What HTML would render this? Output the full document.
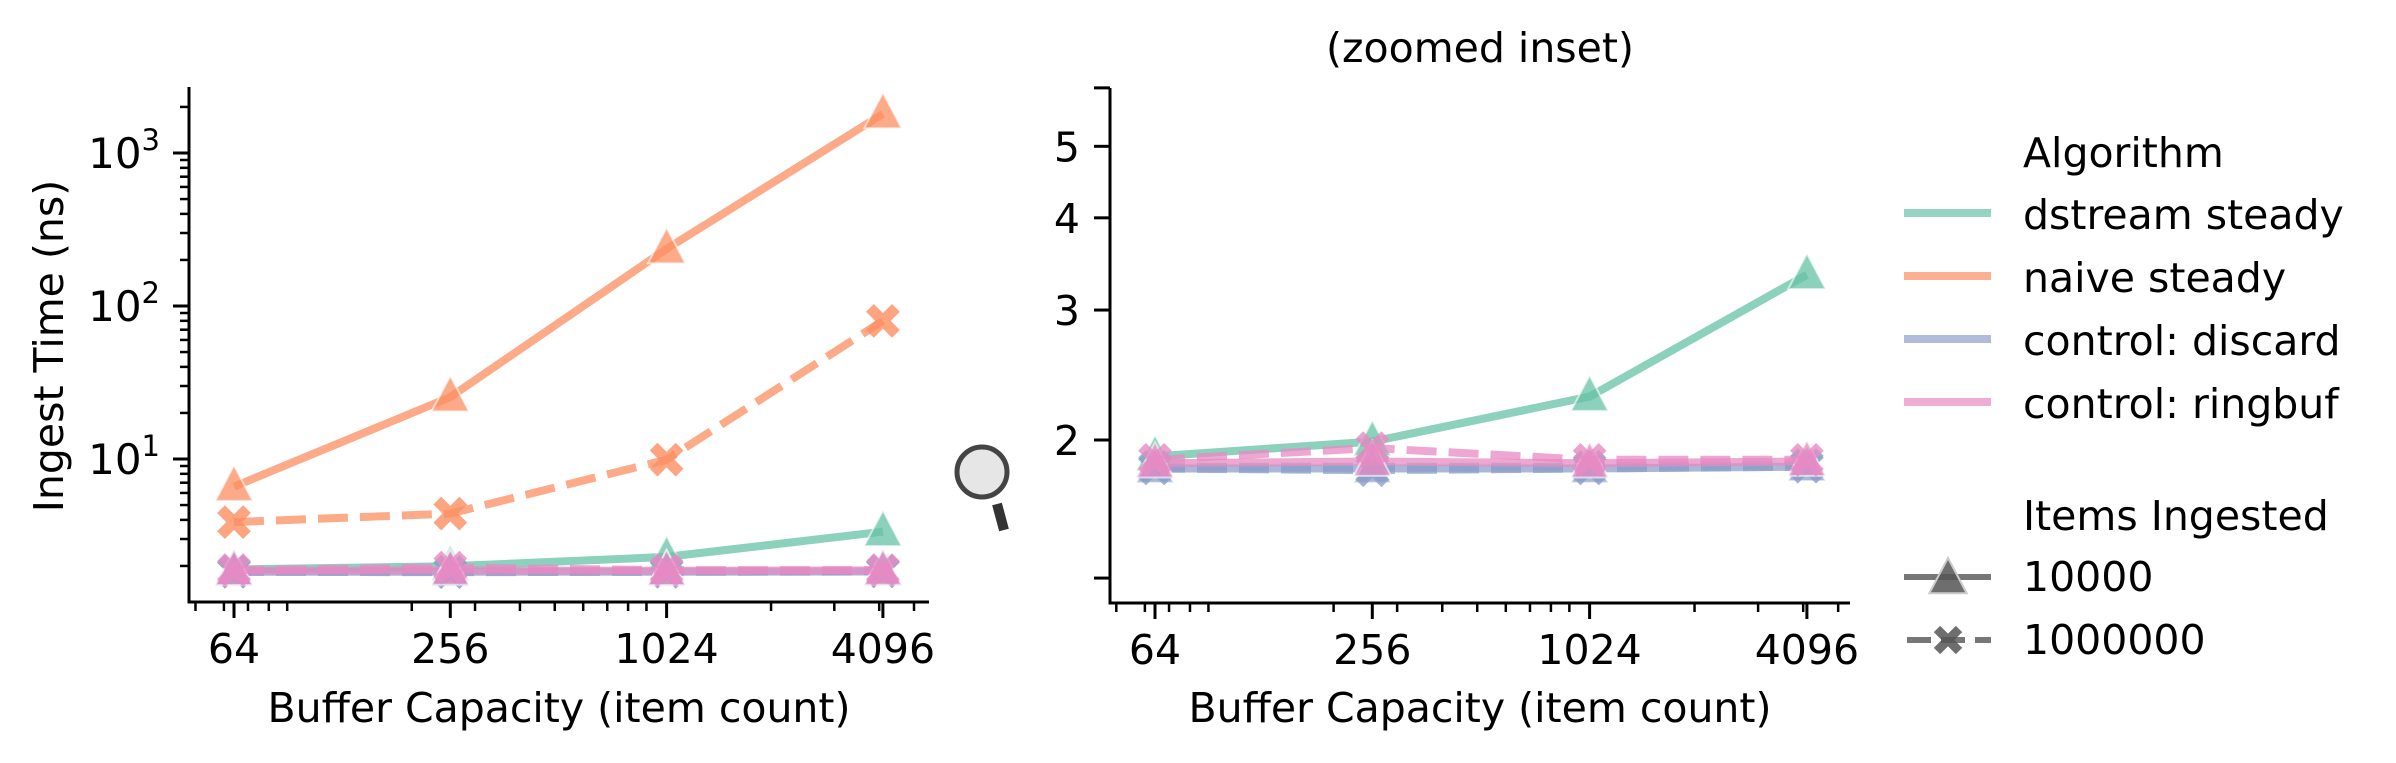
<!DOCTYPE html>
<html><head><meta charset="utf-8"><style>
html,body{margin:0;padding:0;background:#fff;}
svg{display:block;font-family:"DejaVu Sans","Liberation Sans",sans-serif;}
</style></head><body>
<svg id="chart" width="2396" height="763" viewBox="0 0 2396 763">
<defs>
<clipPath id="clipL"><rect x="150" y="87" width="800" height="535"/></clipPath>
<clipPath id="clipR"><rect x="1111" y="84" width="760" height="520"/></clipPath>
</defs>
<g id="left"></g>
<g id="right"></g>
<text x="1480" y="62" font-size="41" text-anchor="middle">(zoomed inset)</text>
<g>
<line x1="997" y1="504" x2="1004" y2="530" stroke="#333" stroke-width="10"/>
<circle cx="982" cy="472" r="25" fill="#e6e6e6" stroke="#444" stroke-width="5"/>
</g>
<g id="legend"></g>
</svg>
<script>
const categories = [64, 256, 1024, 4096];
const dstream10k = [1.90, 1.99, 2.29, 3.35];
const dstream1m = [1.84, 1.84, 1.84, 1.85];
const naive10k = [6.6, 25.4, 236, 1800];
const naive1m = [3.87, 4.4, 9.9, 80];
const discard10k = [1.83, 1.83, 1.83, 1.84];
const discard1m = [1.83, 1.82, 1.83, 1.84];
const ringbuf10k = [1.86, 1.87, 1.86, 1.87];
const ringbuf1m = [1.88, 1.95, 1.88, 1.88];
const xTickLabels = ["64", "256", "1024", "4096"];
const leftYTicks = [10, 100, 1000];
const leftYTickLabels = ["1", "2", "3"];
const rightYTicks = [2, 3, 4, 5];
const rightYTickLabels = ["2", "3", "4", "5"];
const algorithms = ["dstream steady", "naive steady", "control: discard", "control: ringbuf"];

const NS = "http://www.w3.org/2000/svg";
const colors = ["#66c2a5", "#fc8d62", "#8da0cb", "#e78ac3"];
const FS = 41;
const series = [
  {name:"dstream", c:0, d10:dstream10k, d1m:dstream1m},
  {name:"naive", c:1, d10:naive10k, d1m:naive1m},
  {name:"discard", c:2, d10:discard10k, d1m:discard1m},
  {name:"ringbuf", c:3, d10:ringbuf10k, d1m:ringbuf1m}
];
function mk(tag, attrs, parent){const e=document.createElementNS(NS,tag);for(const k in attrs)e.setAttribute(k,attrs[k]);parent.appendChild(e);return e;}

const panels = [
  {g:document.getElementById("left"), name:"left", clip:"clipL", skip:[],
   x:v=>234+108.15*Math.log2(v/64), y:v=>459-153*(Math.log10(v)-1),
   x0:189, x1:929, y0:87, y1:602},
  {g:document.getElementById("right"), name:"right", clip:"clipR", skip:["naive"],
   x:v=>1155+108.65*Math.log2(v/64), y:v=>440-738*Math.log10(v/2),
   x0:1110, x1:1850, y0:88, y1:603}
];

function triPts(cx,cy,s){return `${cx},${cy-s*0.62} ${cx-s*0.55},${cy+s*0.42} ${cx+s*0.55},${cy+s*0.42}`;}
function xPath(cx,cy,s){return `M${cx-s},${cy-s}L${cx+s},${cy+s}M${cx-s},${cy+s}L${cx+s},${cy-s}`;}

panels.forEach((p,pi)=>{
  const g=p.g;
  [20,30,40,50,60,70,80,90,200,300,400,500,600,700,800,900,2000,3000,4000,5000,6000,7000,8000,9000].forEach(v=>{
    const xx=p.x(v); if(xx<p.x0||xx>p.x1) return;
    const t=mk("line",{x1:xx,x2:xx,y1:p.y1,y2:p.y1+9,stroke:"#000","stroke-width":2.5},g);
    
    
  });
  categories.forEach((v,i)=>{
    const xx=p.x(v);
    const t=mk("line",{x1:xx,x2:xx,y1:p.y1,y2:p.y1+16,stroke:"#000","stroke-width":3},g);
    
    
    const l=mk("text",{x:xx,y:p.y1+61,"font-size":FS,"text-anchor":"middle"},g);
    l.textContent=xTickLabels[i];
    
    
  });
  if(pi===0){
    for(let e=0;e<4;e++)for(let m=2;m<10;m++){
      const v=m*Math.pow(10,e); const yy=p.y(v); if(yy<p.y0||yy>p.y1) continue;
      const t=mk("line",{x1:p.x0-9,x2:p.x0,y1:yy,y2:yy,stroke:"#000","stroke-width":2.5},g);
      
      
    }
    leftYTicks.forEach((v,i)=>{
      const yy=p.y(v);
      const t=mk("line",{x1:p.x0-16,x2:p.x0,y1:yy,y2:yy,stroke:"#000","stroke-width":3},g);
      
      
      const l=mk("text",{x:p.x0-29,y:yy+15,"font-size":FS+1,"text-anchor":"end"},g);
      
      
      const a=mk("tspan",{},l); a.textContent="10";
      const b=mk("tspan",{dy:-18,"font-size":29},l); b.textContent=leftYTickLabels[i];
    });
    const yl=mk("text",{x:0,y:0,"font-size":FS,"text-anchor":"middle",transform:"translate(63,346) rotate(-90)"},g);
    yl.textContent="Ingest Time (ns)";
    
    
  } else {
    [1.3,6].forEach(v=>{
      const yy=p.y(v);
      const t=mk("line",{x1:p.x0-16,x2:p.x0,y1:yy,y2:yy,stroke:"#000","stroke-width":3},g);
      
      
    });
    rightYTicks.forEach((v,i)=>{
      const yy=p.y(v);
      const t=mk("line",{x1:p.x0-16,x2:p.x0,y1:yy,y2:yy,stroke:"#000","stroke-width":3},g);
      
      
      const l=mk("text",{x:p.x0-30,y:yy+15,"font-size":FS,"text-anchor":"end"},g);
      l.textContent=rightYTickLabels[i];
      
      
    });
  }
  const xl=mk("text",{x:(pi===0?559:1480),y:722,"font-size":FS,"text-anchor":"middle"},g);
  xl.textContent="Buffer Capacity (item count)";
  
  
  const sp1=mk("line",{x1:p.x0,x2:p.x0,y1:p.y0,y2:p.y1+1.5,stroke:"#000","stroke-width":3},g);
  
  
  const sp2=mk("line",{x1:p.x0-1.5,x2:p.x1,y1:p.y1,y2:p.y1,stroke:"#000","stroke-width":3},g);
  
  
  const dg=mk("g",{"clip-path":"url(#"+p.clip+")"},g);
  
  
  series.forEach(s=>{
    if(p.skip.indexOf(s.name)>=0) return;
    const col=colors[s.c];
    [["10k",s.d10],["1m",s.d1m]].forEach(([k,arr])=>{
      const pts=categories.map((v,i)=>[p.x(v),p.y(arr[i])]);
      const d=pts.map((q,i)=>(i?"L":"M")+q[0].toFixed(1)+","+q[1].toFixed(1)).join("");
      const ln=mk("path",{d:d,fill:"none",stroke:col,"stroke-width":8,"stroke-opacity":0.75,"stroke-linejoin":"round"},dg);
      if(k==="1m") ln.setAttribute("stroke-dasharray","30,12");
      
      
      pts.forEach(q=>{
        let m;
        if(k==="10k"){
          m=mk("polygon",{points:triPts(q[0],q[1],34),fill:col,"fill-opacity":0.75,stroke:"#fff","stroke-opacity":0.6,"stroke-width":2},dg);
        } else {
          m=mk("path",{d:xPath(q[0],q[1],13),stroke:col,"stroke-opacity":0.8,"stroke-width":11,fill:"none"},dg);
        }
        
        
      });
    });
  });
});

const lg=document.getElementById("legend");
const t1=mk("text",{x:2023,y:167,"font-size":FS},lg); t1.textContent="Algorithm";


const ly=[213,276,339,402];
algorithms.forEach((a,i)=>{
  const l=mk("line",{x1:1904,x2:1991,y1:ly[i],y2:ly[i],stroke:colors[i],"stroke-width":8,"stroke-opacity":0.7},lg);
  
  
  const t=mk("text",{x:2023,y:ly[i]+16,"font-size":FS},lg); t.textContent=a;
  
  
});
const t2=mk("text",{x:2023,y:530,"font-size":FS},lg); t2.textContent="Items Ingested";


const s1=mk("line",{x1:1904,x2:1991,y1:577,y2:577,stroke:"#555","stroke-width":6,"stroke-opacity":0.8},lg);


const s1m=mk("polygon",{points:triPts(1948,579,34),fill:"#555","fill-opacity":0.85,stroke:"#ccc","stroke-width":2},lg);


const e1=mk("text",{x:2023,y:591,"font-size":FS},lg); e1.textContent="10000";


const s2=mk("line",{x1:1907,x2:1991,y1:640,y2:640,stroke:"#555","stroke-width":6,"stroke-opacity":0.8,"stroke-dasharray":"24,10"},lg);


const s2m=mk("path",{d:xPath(1948,640,11),stroke:"#555","stroke-opacity":0.85,"stroke-width":9},lg);


const e2=mk("text",{x:2023,y:654,"font-size":FS},lg); e2.textContent="1000000";


</script>
</body></html>
